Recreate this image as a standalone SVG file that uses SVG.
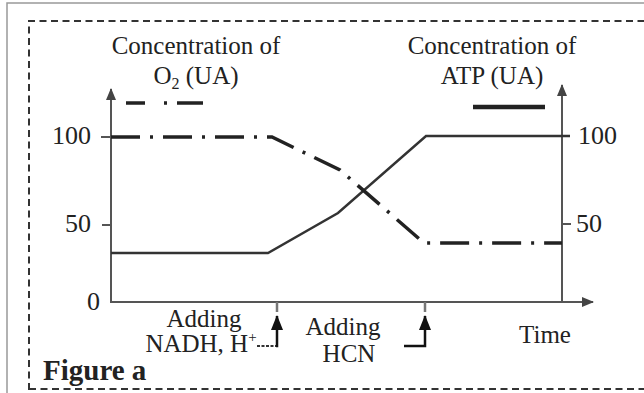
<svg xmlns="http://www.w3.org/2000/svg" width="644" height="393" viewBox="0 0 644 393">
<style>
  .t { font-family: "Liberation Serif", "Times New Roman", serif; fill: #222; }
  .lbl { font-size: 25px; }
  .num { font-size: 26px; }
  .axis { stroke: #555; stroke-width: 2; fill: none; }
  .atp { stroke: #333; stroke-width: 2.5; fill: none; }
  .o2 { stroke: #222; stroke-width: 3.5; fill: none; stroke-dasharray: 29 10 3 10; }
  .evt { stroke: #111; stroke-width: 2.5; fill: none; }
</style>
<defs>
  <marker id="ah" viewBox="0 0 12 10" refX="11" refY="5" markerWidth="12" markerHeight="10" markerUnits="userSpaceOnUse" orient="auto">
    <path d="M0,0 L12,5 L0,10 Z" fill="#444"/>
  </marker>
  <marker id="eh" viewBox="0 0 15 12" refX="14" refY="6" markerWidth="15" markerHeight="12" markerUnits="userSpaceOnUse" orient="auto">
    <path d="M0,0 L15,6 L0,12 Z" fill="#111"/>
  </marker>
</defs>
<rect x="0" y="0" width="644" height="393" fill="#fff"/>
<g id="frame">
  <path d="M7,393 L7,3 L644,3" stroke="#999" stroke-width="1.5" fill="none"/>
  <path d="M29,390 L29,21 L644,21" stroke="#333" stroke-width="2" fill="none" stroke-dasharray="7 4.5"/>
  <path d="M29,389 L644,389" stroke="#333" stroke-width="2" fill="none" stroke-dasharray="7 4.5"/>
</g>
<g id="axes">
  <line class="axis" x1="111" y1="302" x2="111" y2="89" marker-end="url(#ah)"/>
  <line class="axis" x1="562" y1="302" x2="562" y2="85" marker-end="url(#ah)"/>
  <line class="axis" x1="110" y1="302" x2="593" y2="302" marker-end="url(#ah)"/>
  <line class="axis" x1="101" y1="137" x2="111" y2="137"/>
  <line class="axis" x1="102" y1="225" x2="111" y2="225"/>
  <line class="axis" x1="562" y1="224" x2="571" y2="224"/>
  <line x1="277" y1="302" x2="277" y2="312" stroke="#777" stroke-width="2.5"/>
  <line x1="425" y1="302" x2="425" y2="312" stroke="#777" stroke-width="2.5"/>
</g>
<g id="axis-labels">
  <text class="t lbl" x="196" y="54" text-anchor="middle">Concentration of</text>
  <text class="t lbl" x="196" y="84" text-anchor="middle">O<tspan font-size="16" dy="5">2</tspan><tspan dy="-5"> (UA)</tspan></text>
  <text class="t lbl" x="492" y="54" text-anchor="middle">Concentration of</text>
  <text class="t lbl" x="492" y="84" text-anchor="middle">ATP (UA)</text>
  <text class="t num" x="91" y="144" text-anchor="end">100</text>
  <text class="t num" x="91" y="232" text-anchor="end">50</text>
  <text class="t num" x="100" y="310" text-anchor="end">0</text>
  <text class="t num" x="578" y="144">100</text>
  <text class="t num" x="576" y="232">50</text>
  <text class="t lbl" x="545" y="343" text-anchor="middle">Time</text>
</g>
<g id="legend">
  <path d="M126,103 L145,103 M164,103 L167,103 M177,103 L203,103" stroke="#222" stroke-width="3.5" fill="none"/>
  <line x1="473" y1="107" x2="545" y2="107" stroke="#222" stroke-width="4.5"/>
</g>
<g id="curves">
  <path id="atp-curve" class="atp" d="M111,253 L268,253 L338,213 L426,136 L570,136"/>
  <path id="o2-curve" class="o2" d="M111,137 L272,137 L340,170 L424,243 L562,243"/>
</g>
<g id="event-nadh">
  <text class="t lbl" x="204" y="327" text-anchor="middle">Adding</text>
  <text class="t lbl" x="201" y="352" text-anchor="middle">NADH, H<tspan font-size="15" dy="-10">+</tspan></text>
  <path d="M257,346 L277,346" stroke="#333" stroke-width="2" stroke-dasharray="3 1.5" fill="none"/>
  <path class="evt" d="M276,346 L277,346 L277,316" marker-end="url(#eh)"/>
</g>
<g id="event-hcn">
  <text class="t lbl" x="343" y="335" text-anchor="middle">Adding</text>
  <text class="t lbl" x="349" y="362" text-anchor="middle">HCN</text>
  <path class="evt" d="M404,346 L425,346 L425,316" marker-end="url(#eh)"/>
</g>
<g id="title">
  <text class="t" x="43" y="380" font-size="29" font-weight="bold">Figure a</text>
</g>
</svg>
